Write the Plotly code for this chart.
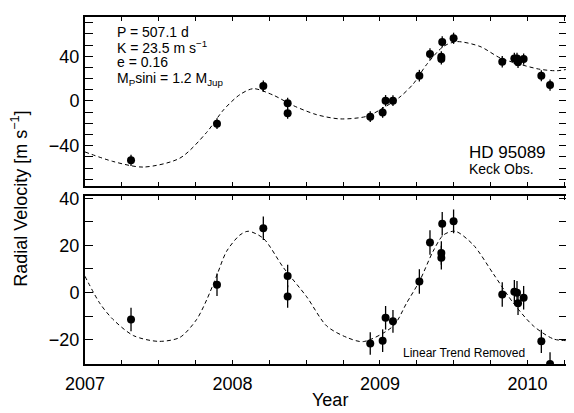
import plotly.graph_objects as go

# ---- data ----
obs_year = [2007.312, 2007.895, 2008.209, 2008.374, 2008.374, 2008.934, 2009.018, 2009.038,
            2009.088, 2009.267, 2009.339, 2009.422, 2009.416, 2009.416, 2009.499, 2009.829,
            2009.911, 2009.929, 2009.936, 2009.974, 2010.094, 2010.153]
rv_raw = [-53.0, -20.3, 13.3, -2.0, -11.0, -14.0, -10.2, 0.3,
          0.3, 22.6, 42.0, 52.7, 39.5, 37.5, 56.0, 35.0,
          38.0, 38.0, 34.5, 37.4, 22.6, 14.2]
rv_detrended = [-11.4, 3.3, 27.3, 7.0, -1.65, -21.6, -20.4, -10.7,
                -12.2, 4.7, 21.2, 29.2, 16.8, 14.8, 30.2, -0.8,
                0.3, -0.1, -4.5, -2.2, -20.7, -30.3]
rv_err = [5.0, 4.8, 5.0, 4.8, 4.8, 4.8, 4.8, 5.0,
          4.8, 5.2, 5.2, 5.0, 5.0, 5.0, 5.0, 5.2,
          5.0, 5.0, 5.0, 5.0, 4.9, 5.0]

fit_top_year = [2007.0, 2007.19, 2007.395, 2007.644, 2007.825, 2007.94, 2008.05, 2008.141,
                2008.277, 2008.412, 2008.57, 2008.73, 2008.91, 2009.02, 2009.136, 2009.226,
                2009.317, 2009.43, 2009.52, 2009.678, 2009.814, 2009.95, 2010.085, 2010.198, 2010.268]
fit_top_rv = [-45.5, -54.0, -59.0, -51.0, -28.0, -7.8, 5.7, 11.0,
              5.2, -4.1, -12.2, -16.0, -13.7, -6.4, 3.7, 15.3,
              32.7, 48.7, 53.0, 48.7, 38.5, 32.7, 28.3, 27.0, 28.3]

fit_bot_year = [2007.0, 2007.10, 2007.19, 2007.33, 2007.50, 2007.644, 2007.757, 2007.825,
                2007.895, 2007.96, 2008.05, 2008.107, 2008.209, 2008.345, 2008.503, 2008.639,
                2008.774, 2008.887, 2009.09, 2009.18, 2009.27, 2009.36, 2009.43, 2009.51,
                2009.633, 2009.769, 2009.905, 2010.041, 2010.177, 2010.268]
fit_bot_rv = [6.9, -4.5, -11.4, -18.3, -20.7, -19.0, -11.4, -3.1,
              7.5, 17.5, 24.4, 26.0, 23.0, 10.6, -1.8, -14.2,
              -19.0, -20.8, -14.2, -4.5, 5.1, 17.5, 24.4, 26.0,
              20.2, 7.9, -4.5, -14.2, -19.7, -20.4]

year_ticks = [2007, 2008, 2009, 2010]
top_major_ticks = [-40, 0, 40]
top_tick_labels = ["\u221240", "0", "40"]
bot_major_ticks = [-20, 0, 20, 40]
bot_tick_labels = ["\u221220", "0", "20", "40"]

FONT = "Liberation Sans, Arial, Helvetica, sans-serif"

fig = go.Figure()

for xa, ya, yfit_x, yfit_y, yobs in [("x", "y", fit_top_year, fit_top_rv, rv_raw),
                                      ("x2", "y2", fit_bot_year, fit_bot_rv, rv_detrended)]:
    fig.add_trace(go.Scatter(x=yfit_x, y=yfit_y, mode="lines", xaxis=xa, yaxis=ya,
                             line=dict(color="black", width=1, dash="4px,3px", shape="spline", smoothing=0.8),
                             hoverinfo="skip", showlegend=False))
    fig.add_trace(go.Scatter(x=obs_year, y=yobs, mode="markers", xaxis=xa, yaxis=ya,
                             marker=dict(color="black", size=8),
                             error_y=dict(type="data", array=rv_err, color="black", thickness=1.3, width=0),
                             showlegend=False))

# page body has an 8px default margin, so the figure is shrunk by 8px
OFF = 8
W, H = 574 - OFF, 413 - OFF
ml, mr, mt, mb = 85 - OFF, 7, 1, 49
plot_h = H - mt - mb
plot_w = W - ml - mr
def py(p):  # reference page pixel -> paper y
    return (H - mb - (p - OFF)) / plot_h
def px(p):  # reference page pixel -> paper x
    return (p - OFF - ml) / plot_w

axis_common = dict(showline=True, linecolor="black", linewidth=2, mirror="allticks",
                   ticks="inside", tickcolor="black", showgrid=False, zeroline=False,
                   tickfont=dict(family=FONT, size=18, color="black"))

xminor = dict(dtick=0.25, ticklen=4, tickcolor="black", ticks="inside", tickwidth=1)
yminor = dict(dtick=10, tick0=0, ticklen=8, tickcolor="black", ticks="inside", tickwidth=1)

xr = [2007.0, 2010.268]
fig.update_layout(
    width=W, height=H,
    margin=dict(l=ml, r=mr, t=mt, b=mb),
    paper_bgcolor="white", plot_bgcolor="white",
    font=dict(family=FONT, color="black"),
    xaxis=dict(axis_common, range=xr, domain=[0, 1], anchor="y", tickvals=year_ticks,
               showticklabels=False, ticklen=4, tickwidth=1, minor=xminor),
    yaxis=dict(axis_common, range=[-76, 75], domain=[py(182), 1], anchor="x",
               tickvals=top_major_ticks, ticktext=top_tick_labels,
               ticklen=8, tickwidth=1, minor=yminor),
    xaxis2=dict(axis_common, range=xr, domain=[0, 1], anchor="y2", tickvals=year_ticks,
                ticktext=[str(v) for v in year_ticks], ticklen=4, tickwidth=1, minor=xminor,
                ticklabelstandoff=2),
    yaxis2=dict(axis_common, range=[-30.3, 40.8], domain=[0, py(192.5)], anchor="x2",
                tickvals=bot_major_ticks, ticktext=bot_tick_labels,
                ticklen=8, tickwidth=1, minor=yminor),
)

annos = []
params = ["P = 507.1 d", "K = 23.5 m s<sup>\u22121</sup>", "e = 0.16",
          "M<sub>P</sub>sini = 1.2 M<sub>Jup</sub>"]
line_y = [24, 39.8, 55.4, 72]
for t, yy in zip(params, line_y):
    annos.append(dict(text=t, x=px(115), y=py(yy), xref="paper", yref="paper",
                      xanchor="left", yanchor="middle", showarrow=False,
                      font=dict(family=FONT, size=14, color="black")))
annos.append(dict(text="HD 95089", x=px(467), y=py(148), xref="paper", yref="paper",
                  xanchor="left", yanchor="middle", showarrow=False,
                  font=dict(family=FONT, size=17, color="black")))
annos.append(dict(text="Keck Obs.", x=px(467), y=py(165), xref="paper", yref="paper",
                  xanchor="left", yanchor="middle", showarrow=False,
                  font=dict(family=FONT, size=14, color="black")))
annos.append(dict(text="Linear Trend Removed", x=px(401), y=py(353), xref="paper", yref="paper",
                  xanchor="left", yanchor="middle", showarrow=False,
                  font=dict(family=FONT, size=12, color="black")))
annos.append(dict(text="Radial Velocity [m s<sup>\u22121</sup>]", x=px(20), y=py(195),
                  xref="paper", yref="paper", xanchor="center", yanchor="middle",
                  textangle=-90, showarrow=False,
                  font=dict(family=FONT, size=18, color="black")))
annos.append(dict(text="Year", x=px(330), y=py(401), xref="paper", yref="paper",
                  xanchor="center", yanchor="middle", showarrow=False,
                  font=dict(family=FONT, size=18, color="black")))
fig.update_layout(annotations=annos)

fig.write_html("out.html")
